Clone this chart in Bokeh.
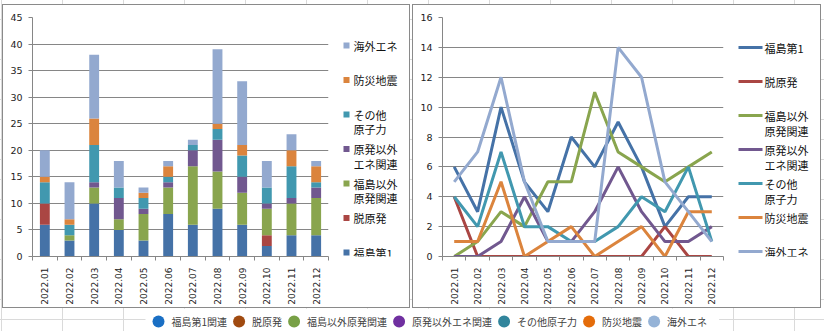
import math
from bokeh.plotting import figure
from bokeh.models import Range1d, FixedTicker, ColumnDataSource
from bokeh.layouts import row, column
from bokeh.core.properties import value
from bokeh.embed import file_html
from bokeh.resources import INLINE

# ---------------- data ----------------
months = ["2022.01", "2022.02", "2022.03", "2022.04", "2022.05", "2022.06",
          "2022.07", "2022.08", "2022.09", "2022.10", "2022.11", "2022.12"]
series_names = ["福島第1", "脱原発", "福島以外原発関連", "原発以外エネ関連",
                "その他原子力", "防災地震", "海外エネ"]
legend_labels = ["福島第1", "脱原発", "福島以外\n原発関連", "原発以外\nエネ関連",
                 "その他\n原子力", "防災地震", "海外エネ"]
bottom_labels = ["福島第1関連", "脱原発", "福島以外原発関連", "原発以外エネ関連",
                 "その他原子力", "防災地震", "海外エネ"]

fukushima1 = [6, 3, 10, 5, 3, 8, 6, 9, 6, 2, 4, 4]
datsu_genpatsu = [4, 0, 0, 0, 0, 0, 0, 0, 0, 2, 0, 0]
fukushima_igai = [0, 1, 3, 2, 5, 5, 11, 7, 6, 5, 6, 7]
genpatsu_igai = [0, 0, 1, 4, 1, 1, 3, 6, 3, 1, 1, 2]
sonota_genshiryoku = [4, 2, 7, 2, 2, 1, 1, 2, 4, 3, 6, 1]
bousai_jishin = [1, 1, 5, 0, 1, 2, 0, 1, 2, 0, 3, 3]
kaigai_ene = [5, 7, 12, 5, 1, 1, 1, 14, 12, 5, 3, 1]

bar_ticks = [0, 5, 10, 15, 20, 25, 30, 35, 40, 45]
line_ticks = [0, 2, 4, 6, 8, 10, 12, 14, 16]

values = [fukushima1, datsu_genpatsu, fukushima_igai, genpatsu_igai,
          sonota_genshiryoku, bousai_jishin, kaigai_ene]

# ---------------- styles ----------------
colors = ["#4572A7", "#AA4643", "#89A54E", "#71588F", "#4198AF", "#DB843D", "#93A9CF"]
bottom_colors = ["#1A6FC4", "#A04A10", "#78A046", "#7030A0", "#31859C", "#E46C0A", "#95B3D7"]
GRID = "#868686"
NUM_FONT = "DejaVu Sans"
JP_FONT = "Noto Sans CJK JP"
BOX_STYLE = {"border": "1px solid #8a8a8a", "background-color": "white"}
ROOT_STYLE = {
    "background-color": "white",
    "background-image": "linear-gradient(to right, #dadada 1px, transparent 1px),"
                        "linear-gradient(to bottom, #dadada 1px, transparent 1px)",
    "background-size": "61px 20px",
    "background-position": "62px 319px",
}

n = len(months)
xs = [i + 0.5 for i in range(n)]

# plot-area borders inside each chart box (pixels)
B_LEFT, B_TOP, B_BOTTOM, FIG_H = 29, 12, 51, 302
FRAME_TOP_PAGE, FRAME_BOTTOM_PAGE = 17, 256


def style_chart(p, ticks):
    p.outline_line_color = None
    p.xgrid.visible = False
    yt = FixedTicker(ticks=ticks)
    p.yaxis.ticker = yt
    p.ygrid.ticker = yt
    p.ygrid.grid_line_color = GRID
    p.ygrid.grid_line_width = 1
    p.yaxis.axis_line_color = GRID
    p.yaxis.major_tick_line_color = GRID
    p.yaxis.major_tick_out = 4
    p.yaxis.major_tick_in = 0
    p.yaxis.minor_tick_line_color = None
    p.yaxis.major_label_standoff = 6
    p.yaxis.major_label_text_font = NUM_FONT
    p.yaxis.major_label_text_font_size = "9.5px"
    p.yaxis.major_label_text_color = "#222222"

    xt = FixedTicker(ticks=xs, minor_ticks=list(range(n + 1)))
    p.xaxis.ticker = xt
    p.xaxis.major_label_overrides = {x: m for x, m in zip(xs, months)}
    p.xaxis.major_label_orientation = math.pi / 2
    p.xaxis.axis_line_color = GRID
    p.xaxis.major_tick_line_color = None
    p.xaxis.major_tick_out = 0
    p.xaxis.major_tick_in = 0
    p.xaxis.minor_tick_line_color = GRID
    p.xaxis.minor_tick_out = 4
    p.xaxis.minor_tick_in = 0
    p.xaxis.major_label_standoff = 7
    p.xaxis.major_label_text_font = NUM_FONT
    p.xaxis.major_label_text_font_size = "9px"
    p.xaxis.major_label_text_color = "#222222"


# ---------------- left: stacked bars ----------------
p1 = figure(width=327, height=FIG_H, x_range=Range1d(0, n), y_range=Range1d(0, 45),
            output_backend="svg", toolbar_location=None,
            min_border_left=B_LEFT, min_border_right=2, min_border_top=B_TOP,
            min_border_bottom=B_BOTTOM)
src = ColumnDataSource(dict(x=xs, **{name: v for name, v in zip(series_names, values)}))
p1.vbar_stack(series_names, x="x", width=0.4, fill_color=colors, line_color=None, source=src)
style_chart(p1, bar_ticks)


def legend_fig(width, order, marker_kind, x_mark, x_text, y0, pitch, line_gap):
    # y coordinates of this figure are page pixels (top-down) over the aligned frame
    lg = figure(width=width, height=FIG_H, x_range=Range1d(0, width),
                y_range=Range1d(FRAME_BOTTOM_PAGE, FRAME_TOP_PAGE),
                output_backend="svg", toolbar_location=None,
                min_border_left=0, min_border_right=0,
                min_border_top=B_TOP, min_border_bottom=B_BOTTOM,
                x_axis_location=None, y_axis_location=None)
    lg.grid.visible = False
    lg.outline_line_color = None
    tx, ty, tt = [], [], []
    for k, i in enumerate(order):
        y = y0 + pitch * k
        if marker_kind == "square":
            lg.scatter([x_mark], [y], marker="square", size=6, fill_color=colors[i], line_color=None)
        else:
            lg.segment([x_mark[0]], [y], [x_mark[1]], [y], line_color=colors[i], line_width=3)
        for j, part in enumerate(legend_labels[i].split("\n")):
            tx.append(x_text)
            ty.append(y + line_gap * j)
            tt.append(part)
    lg.text(x=tx, y=ty, text=tt, text_font=value(JP_FONT), text_font_size="11px",
            text_baseline="middle", text_align="left", text_color="#111111")
    return lg


lg1 = legend_fig(79, list(range(6, -1, -1)), "square", 16, 23, 45, 34.5, 14.5)

# ---------------- right: lines ----------------
p2 = figure(width=312, height=FIG_H, x_range=Range1d(0, n), y_range=Range1d(0, 16),
            output_backend="svg", toolbar_location=None,
            min_border_left=B_LEFT, min_border_right=2, min_border_top=B_TOP,
            min_border_bottom=B_BOTTOM)
for name, v, c in zip(series_names, values, colors):
    p2.line(xs, v, line_color=c, line_width=3)
style_chart(p2, line_ticks)

lg2 = legend_fig(95, list(range(7)), "line", (13, 37), 39, 47, 34, 15)

# ---------------- bottom legend ----------------
pb = figure(width=824, height=23, x_range=Range1d(0, 824), y_range=Range1d(0, 23),
            output_backend="svg", toolbar_location=None, min_border=0,
            x_axis_location=None, y_axis_location=None)
pb.grid.visible = False
pb.outline_line_color = None
pb.background_fill_alpha = 0
pb.border_fill_alpha = 0
fs = 10.0


def text_w(s):
    return sum(0.56 * fs if ch.isdigit() else fs for ch in s)


cx = 158.0
bx, btx = [], []
for lab in bottom_labels:
    bx.append(cx)
    btx.append(cx + 13)
    cx = cx + 13 + text_w(lab) + 12
pb.quad(left=[145], right=[cx], bottom=[0], top=[23], fill_color="white", line_color=None)
pb.scatter(bx, [10] * len(bx), marker="circle", size=12, fill_color=bottom_colors, line_color=None)
pb.text(x=btx, y=[10] * len(btx), text=bottom_labels, text_font=value(JP_FONT),
        text_font_size="10px", text_baseline="middle", text_color="#404040")

box1 = row(p1, lg1, styles=BOX_STYLE, margin=(4, 0, 0, 2))
box2 = row(p2, lg2, styles=BOX_STYLE, margin=(4, 0, 0, 2))
root = column(row(box1, box2), pb, styles=ROOT_STYLE)

open("out.html", "w").write(file_html(root, INLINE))
